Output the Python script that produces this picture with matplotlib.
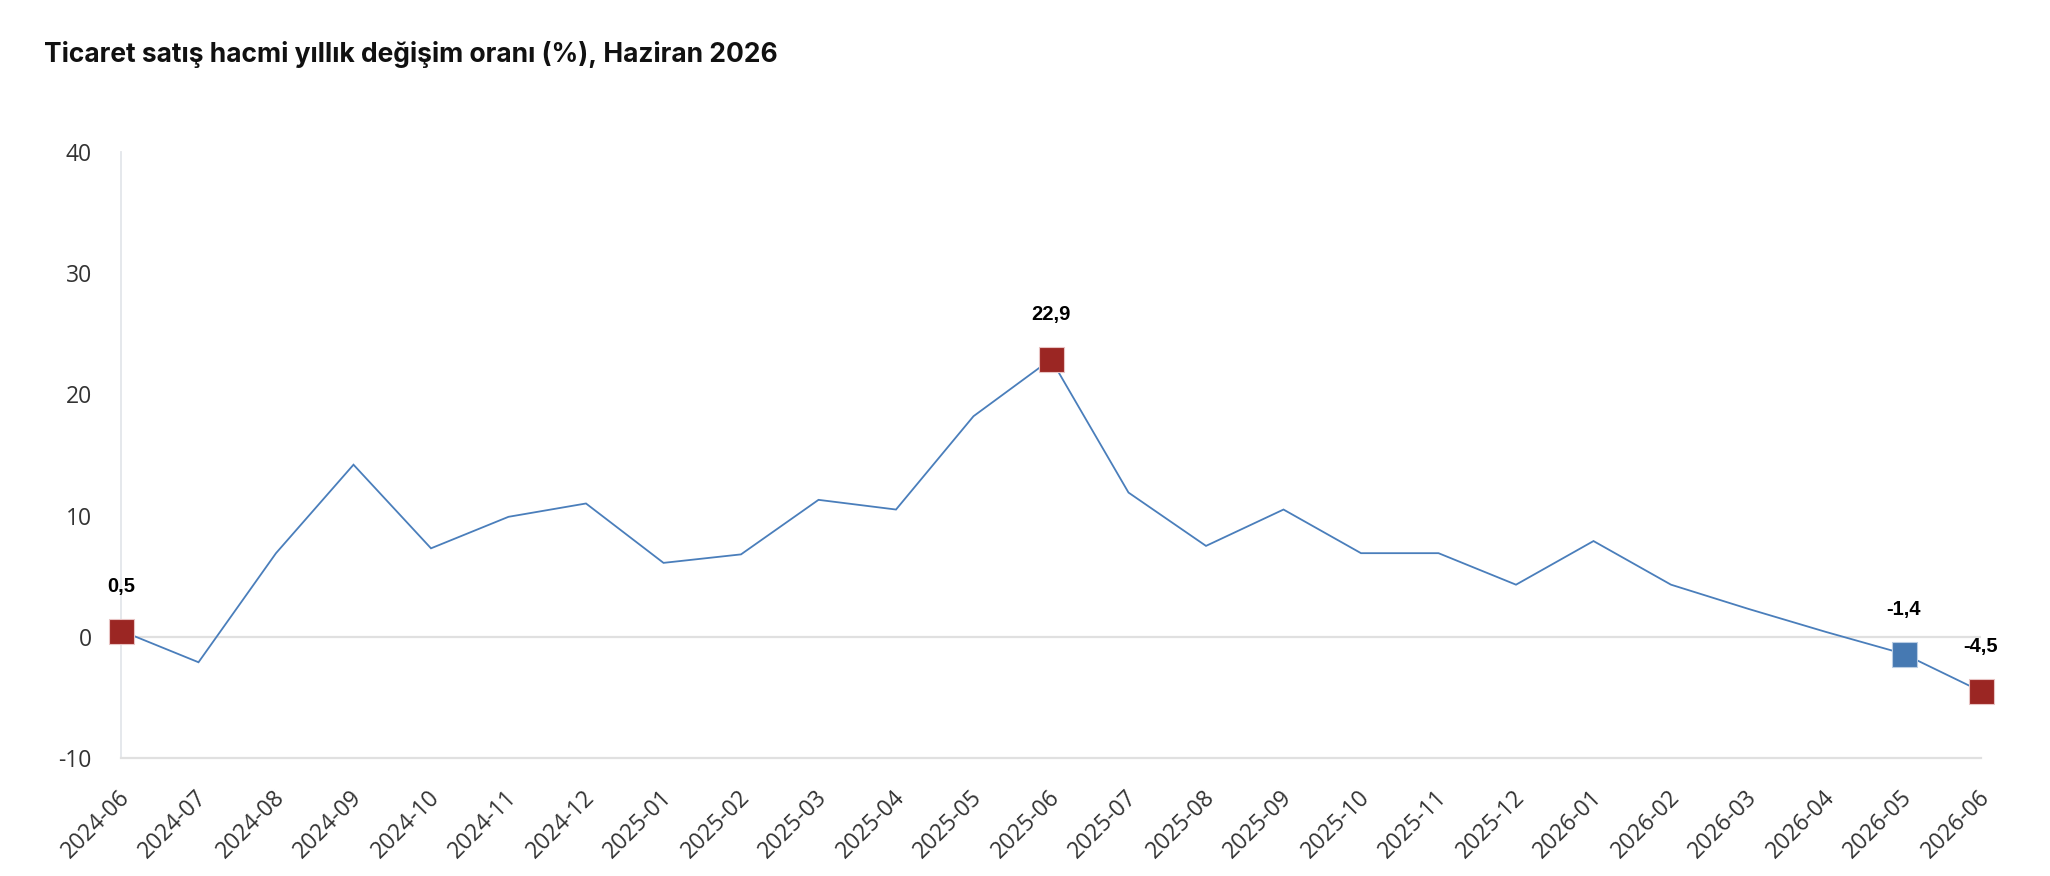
import matplotlib
matplotlib.use("Agg")
import matplotlib.pyplot as plt
import matplotlib.transforms as mtransforms

# ---- data ----
months = ["2024-06", "2024-07", "2024-08", "2024-09", "2024-10", "2024-11", "2024-12",
          "2025-01", "2025-02", "2025-03", "2025-04", "2025-05", "2025-06", "2025-07",
          "2025-08", "2025-09", "2025-10", "2025-11", "2025-12", "2026-01", "2026-02",
          "2026-03", "2026-04", "2026-05", "2026-06"]
values = [0.5, -2.1, 6.9, 14.2, 7.3, 9.9, 11.0, 6.1, 6.8, 11.3, 10.5, 18.2, 22.9,
          11.9, 7.5, 10.5, 6.9, 6.9, 4.3, 7.9, 4.3, 2.3, 0.4, -1.4, -4.5]
highlight_red = ["2024-06", "2025-06", "2026-06"]
highlight_blue = ["2026-05"]
y_ticks = [-10, 0, 10, 20, 30, 40]
title = "Ticaret satış hacmi yıllık değişim oranı (%), Haziran 2026"

LINE = "#4a7ebb"
RED = "#9b2623"
BLUE = "#4679b2"

fig = plt.figure(figsize=(20.5, 8.76), dpi=100)
ax = fig.add_axes([121 / 2050, 1 - 758 / 876, (1981 - 121) / 2050, (758 - 152) / 876])

x = list(range(len(months)))
ax.plot(x, values, color=LINE, lw=1.3, zorder=3, solid_joinstyle="miter")

def fmt(v):
    return f"{v:.1f}".replace(".", ",")

for m, col in [(m, RED) for m in highlight_red] + [(m, BLUE) for m in highlight_blue]:
    i = months.index(m)
    ax.plot([x[i]], [values[i]], marker="s", ms=18, color=col,
            mec="#e8c4c4" if col == RED else "#b9cde4", mew=0.8, zorder=4, clip_on=False)
    ax.annotate(fmt(values[i]), (x[i], values[i]), xytext=(0, 32), textcoords="offset points",
                ha="center", va="center", fontsize=14.5, fontweight="bold",
                family="Liberation Sans", color="#000000", zorder=5)

ax.axhline(0, color="#e0e0e0", lw=1.6, zorder=1)
ax.set_xlim(0, len(months) - 1)
ax.set_ylim(-10, 40)

for s in ["top", "right"]:
    ax.spines[s].set_visible(False)
ax.spines["left"].set_color("#e3e6ea")
ax.spines["left"].set_linewidth(1.3)
ax.spines["bottom"].set_color("#e0e0e0")
ax.spines["bottom"].set_linewidth(1.6)

ax.set_yticks(y_ticks)
ax.set_yticklabels([str(t) for t in y_ticks], family="Open Sans", fontsize=16.5, color="#333333")
ax.tick_params(axis="y", length=0, pad=21)

ax.set_xticks(x)
ax.set_xticklabels(months, rotation=45, ha="right", va="center", rotation_mode="anchor",
                   family="Open Sans", fontsize=16.5, color="#333333")
ax.tick_params(axis="x", length=0, pad=26)
offset = mtransforms.ScaledTranslation(5 / 100, 0, fig.dpi_scale_trans)
for lbl in ax.get_xticklabels():
    lbl.set_transform(lbl.get_transform() + offset)

fig.text(44 / 2050, 1 - 55 / 876, title, family="Inter", fontweight="bold", fontsize=19,
         color="#111111", ha="left", va="center")

fig.savefig("out.png", dpi=100, facecolor="white")
